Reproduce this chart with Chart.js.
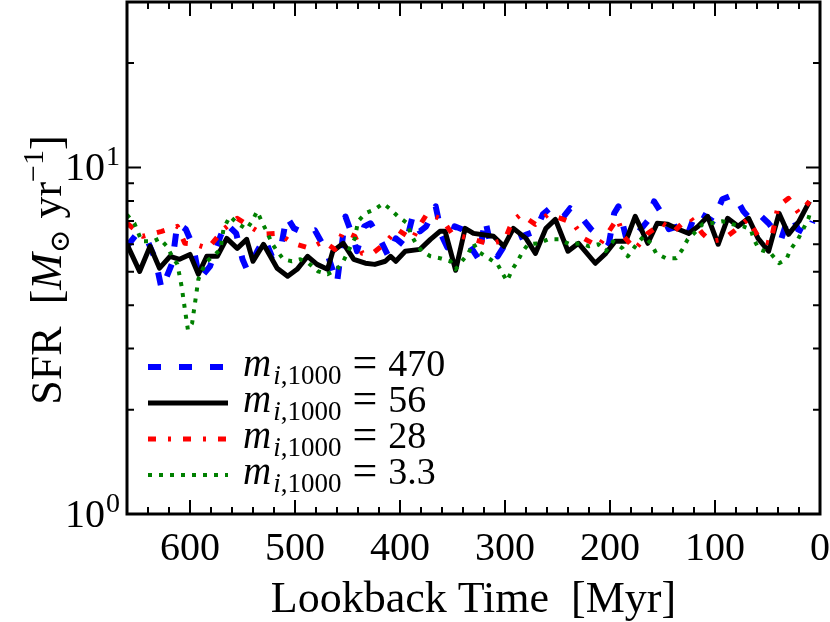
<!DOCTYPE html>
<html>
<head>
<meta charset="utf-8">
<script src="https://cdn.jsdelivr.net/npm/chart.js@4.4.1/dist/chart.umd.min.js"></script>
<style>
  html, body { margin: 0; padding: 0; background: #fff; }
</style>
</head>
<body>
<canvas id="sfrChart" width="830" height="622"></canvas>
<script>
// lookback time [Myr] and SFR [Msun/yr]
const time470 = [660, 651, 641, 633, 627, 617, 612, 604, 597, 591, 581, 571, 566, 556, 550, 545, 536, 529, 522, 514, 508, 501, 490, 481, 470, 460, 452, 445, 441, 434, 428, 419, 411, 404, 395, 388, 381, 375, 366, 360, 355, 348, 341, 333, 325, 319, 314, 307, 301, 295, 279, 271, 264, 255, 244, 238, 228, 218, 210, 201, 196, 192, 185, 178, 174, 163, 158, 152, 144, 135, 127, 118, 109, 102, 93, 82, 73, 66, 58, 49, 37, 32, 26, 21, 12, 7];
const sfr470 = [5.92, 6.41, 6.20, 5.43, 4.45, 5.29, 6.90, 6.63, 5.92, 4.76, 5.18, 6.33, 6.90, 6.45, 5.43, 5.01, 5.73, 6.24, 5.54, 5.73, 7.22, 6.67, 6.45, 6.58, 5.73, 4.63, 7.22, 6.33, 5.73, 6.76, 6.90, 6.20, 5.54, 6.24, 5.92, 7.22, 6.54, 6.76, 7.72, 6.33, 5.88, 6.76, 6.63, 5.92, 5.43, 7.08, 6.04, 5.54, 5.92, 6.12, 6.41, 6.54, 7.32, 7.72, 7.22, 7.62, 7.22, 6.63, 6.33, 6.04, 7.37, 7.72, 6.33, 6.12, 6.45, 7.08, 7.98, 7.47, 6.63, 6.76, 6.28, 7.47, 7.22, 6.99, 8.09, 8.36, 7.47, 7.08, 7.32, 6.90, 6.20, 6.90, 7.22, 6.63, 6.41, 6.99];

const time56 = [660, 648, 638, 629, 619, 610, 600, 592, 584, 574, 565, 555, 546, 540, 530, 517, 507, 498, 488, 479, 469, 464, 454, 444, 433, 424, 414, 409, 404, 395, 381, 371, 362, 357, 347, 338, 330, 311, 301, 292, 280, 271, 261, 252, 240, 230, 214, 204, 195, 185, 176, 164, 155, 145, 135, 125, 116, 107, 97, 88, 78, 68, 59, 49, 39, 30, 20, 10];
const sfr56 = [6.00, 5.01, 5.92, 5.12, 5.54, 5.43, 5.61, 4.92, 5.54, 5.54, 6.24, 5.84, 6.20, 5.36, 6.00, 5.12, 4.85, 5.08, 5.54, 5.25, 5.08, 5.73, 6.04, 5.43, 5.29, 5.25, 5.36, 5.54, 5.36, 5.73, 5.80, 6.20, 6.54, 6.54, 5.05, 6.67, 6.45, 6.33, 5.92, 6.67, 6.24, 5.65, 6.67, 7.08, 5.73, 6.04, 5.29, 5.65, 6.12, 6.12, 7.22, 6.04, 6.90, 6.85, 6.63, 6.45, 6.76, 7.22, 6.00, 7.13, 6.76, 7.13, 6.24, 5.73, 7.37, 6.41, 6.99, 7.98];

const time28 = [660, 645, 627, 612, 605, 595, 583, 567, 555, 543, 531, 516, 502, 486, 473, 462, 454, 443, 436, 426, 414, 403, 388, 383, 374, 360, 350, 342, 330, 314, 300, 293, 285, 271, 259, 247, 235, 225, 211, 201, 193, 187, 176, 164, 150, 139, 131, 123, 112, 104, 92, 82, 69, 56, 47, 40, 30, 20, 10];
const sfr28 = [6.90, 6.33, 6.54, 6.76, 6.04, 6.00, 5.84, 6.67, 7.13, 6.76, 6.41, 6.45, 6.04, 5.84, 6.12, 5.80, 6.54, 6.33, 5.65, 5.65, 6.04, 6.63, 6.20, 6.67, 7.37, 7.08, 6.41, 6.33, 6.20, 6.00, 6.20, 6.99, 7.32, 6.85, 7.32, 7.13, 6.90, 6.24, 5.92, 6.54, 7.13, 6.33, 5.80, 6.45, 6.90, 6.54, 6.90, 7.13, 6.45, 6.12, 6.20, 6.54, 7.08, 6.12, 6.04, 7.72, 8.14, 7.37, 7.98];

const time3p3 = [660, 653, 646, 635, 629, 622, 617, 612, 608, 605, 602, 598, 595, 592, 588, 584, 578, 571, 568, 562, 555, 546, 541, 536, 531, 527, 522, 517, 511, 503, 495, 487, 478, 469, 460, 454, 447, 443, 440, 433, 424, 416, 409, 402, 393, 390, 385, 379, 371, 362, 352, 347, 341, 335, 330, 326, 314, 307, 302, 298, 293, 288, 283, 278, 268, 259, 249, 238, 228, 220, 211, 204, 197, 188, 183, 176, 168, 161, 156, 147, 137, 131, 126, 120, 112, 104, 93, 83, 73, 66, 63, 58, 47, 39, 32, 28, 21, 16, 11, 9];
const sfr3p3 = [7.30, 6.90, 6.12, 6.12, 6.24, 5.92, 5.54, 5.25, 4.54, 3.92, 3.40, 3.55, 4.11, 4.76, 5.08, 5.36, 5.54, 5.80, 6.67, 7.22, 6.90, 6.63, 6.99, 7.47, 6.90, 6.54, 6.04, 5.73, 5.43, 5.36, 5.43, 5.29, 5.01, 4.92, 5.08, 5.36, 5.92, 6.24, 6.99, 7.37, 7.57, 7.87, 7.57, 7.22, 6.90, 6.45, 6.04, 5.73, 5.54, 5.47, 5.36, 5.08, 5.36, 5.65, 6.04, 5.73, 5.43, 5.25, 4.92, 4.70, 5.08, 5.36, 5.73, 6.00, 6.04, 6.20, 6.20, 6.00, 6.04, 5.92, 6.00, 5.73, 6.12, 5.84, 5.54, 5.92, 6.33, 6.04, 5.65, 5.47, 5.47, 5.80, 6.20, 6.45, 6.85, 6.90, 6.99, 6.85, 6.76, 6.63, 6.20, 5.80, 5.65, 5.29, 5.43, 5.80, 6.20, 6.63, 7.13, 7.47];

const seriesValues = ["470", "56", "28", "3.3"];
const xMajorTicks = [600, 500, 400, 300, 200, 100, 0];
const yMajorTicks = [1, 10];
const yTickExponents = ["0", "1"];
const yMinorTicks = [2, 3, 4, 5, 6, 7, 8, 9, 20, 30];

const serif = '"Liberation Serif", "Times New Roman", "DejaVu Serif", serif';

function toPoints(times, values) {
  return times.map((t, i) => ({ x: t, y: values[i] }));
}

const styles = [
  { color: "#0000ff", width: 6, dash: [13, 18] },
  { color: "#000000", width: 5, dash: [] },
  { color: "#ff0000", width: 5, dash: [8, 12, 3, 12] },
  { color: "#008000", width: 4, dash: [4, 7] },
];

// frame, inward ticks, tick labels, axis titles and legend
const decorations = {
  id: "decorations",
  afterDraw(chart) {
    const ctx = chart.ctx;
    const a = chart.chartArea;
    const xs = chart.scales.x;
    const ys = chart.scales.y;
    ctx.save();
    ctx.strokeStyle = "#000";
    ctx.fillStyle = "#000";

    // ticks
    ctx.lineWidth = 2;
    ctx.beginPath();
    for (let t = 0; t <= 660; t += 20) {
      const px = xs.getPixelForValue(t);
      const len = xMajorTicks.includes(t) ? 14 : 7;
      ctx.moveTo(px, a.bottom); ctx.lineTo(px, a.bottom - len);
      ctx.moveTo(px, a.top); ctx.lineTo(px, a.top + len);
    }
    yMajorTicks.concat(yMinorTicks).forEach((v) => {
      const py = ys.getPixelForValue(v);
      const len = yMajorTicks.includes(v) ? 14 : 7;
      ctx.moveTo(a.left, py); ctx.lineTo(a.left + len, py);
      ctx.moveTo(a.right, py); ctx.lineTo(a.right - len, py);
    });
    ctx.stroke();

    // frame
    ctx.lineWidth = 3;
    ctx.strokeRect(a.left, a.top, a.right - a.left, a.bottom - a.top);

    // x tick labels
    ctx.font = "40px " + serif;
    ctx.textAlign = "center";
    ctx.textBaseline = "alphabetic";
    xMajorTicks.forEach((t) => {
      ctx.fillText(String(t), xs.getPixelForValue(t), 560);
    });

    // y tick labels 10^n
    yMajorTicks.forEach((v, i) => {
      const py = ys.getPixelForValue(v);
      ctx.textAlign = "right";
      ctx.font = "40px " + serif;
      ctx.fillText("10", 105, py + 13);
      ctx.textAlign = "left";
      ctx.font = "28px " + serif;
      ctx.fillText(yTickExponents[i], 106, py - 2);
    });

    // x title
    ctx.textAlign = "center";
    ctx.font = "44px " + serif;
    ctx.fillText("Lookback Time  [Myr]", (a.left + a.right) / 2, 612);

    // y title, rotated
    const parts = [
      { t: "SFR", f: "44px " + serif, dy: 0 },
      { t: "  [", f: "44px " + serif, dy: 0 },
      { t: "M", f: "italic 44px " + serif, dy: 0 },
      { t: "\u2299", f: "28px " + serif, dy: 8 },
      { t: " yr", f: "44px " + serif, dy: 0 },
      { t: "\u22121", f: "30px " + serif, dy: -18 },
      { t: "]", f: "44px " + serif, dy: 0 },
    ];
    let total = 0;
    parts.forEach((p) => { ctx.font = p.f; p.w = ctx.measureText(p.t).width; total += p.w; });
    ctx.translate(61, (a.top + a.bottom) / 2 + 12);
    ctx.rotate(-Math.PI / 2);
    ctx.textAlign = "left";
    let cx = -total / 2;
    parts.forEach((p) => { ctx.font = p.f; ctx.fillText(p.t, cx, p.dy); cx += p.w; });
    ctx.setTransform(1, 0, 0, 1, 0, 0);

    // legend
    styles.forEach((s, i) => {
      const ly = 367 + i * 36;
      ctx.beginPath();
      ctx.strokeStyle = s.color;
      ctx.lineWidth = s.width;
      ctx.setLineDash(s.dash);
      ctx.lineCap = "butt";
      ctx.moveTo(148, ly);
      ctx.lineTo(228, ly);
      ctx.stroke();
      ctx.setLineDash([]);

      const base = ly + 9;
      let x = 243;
      ctx.textAlign = "left";
      ctx.font = "italic 39px " + serif;
      ctx.fillText("m", x, base);
      x += ctx.measureText("m").width + 2;
      ctx.font = "italic 27px " + serif;
      ctx.fillText("i", x, base + 8);
      x += ctx.measureText("i").width;
      ctx.font = "27px " + serif;
      ctx.fillText(",1000", x, base + 8);
      x += ctx.measureText(",1000").width + 11;
      ctx.font = "44px " + serif;
      ctx.fillText("=", x, base + 1);
      x += ctx.measureText("=").width + 11;
      ctx.font = "38px " + serif;
      ctx.fillText(seriesValues[i], x, base);
    });
    ctx.restore();
  },
};

const series = [
  toPoints(time470, sfr470),
  toPoints(time56, sfr56),
  toPoints(time28, sfr28),
  toPoints(time3p3, sfr3p3),
];

new Chart(document.getElementById("sfrChart").getContext("2d"), {
  type: "scatter",
  data: {
    datasets: series.map((pts, i) => ({
      data: pts,
      showLine: true,
      borderColor: styles[i].color,
      borderWidth: styles[i].width,
      borderDash: styles[i].dash,
      borderCapStyle: "butt",
      borderJoinStyle: "round",
      pointRadius: 0,
      fill: false,
      tension: 0,
      order: 4 - i,
    })),
  },
  options: {
    responsive: false,
    animation: false,
    layout: { padding: { left: 0, right: 10, top: 2, bottom: 0 } },
    plugins: { legend: { display: false }, tooltip: { enabled: false } },
    scales: {
      x: {
        type: "linear",
        min: 0,
        max: 660,
        reverse: true,
        grid: { display: false },
        border: { display: false },
        ticks: { display: false },
        afterFit: (s) => { s.height = 108; },
      },
      y: {
        type: "logarithmic",
        min: 1,
        max: 30,
        grid: { display: false },
        border: { display: false },
        ticks: { display: false },
        afterFit: (s) => { s.width = 127; },
      },
    },
  },
  plugins: [decorations],
});
</script>
</body>
</html>
